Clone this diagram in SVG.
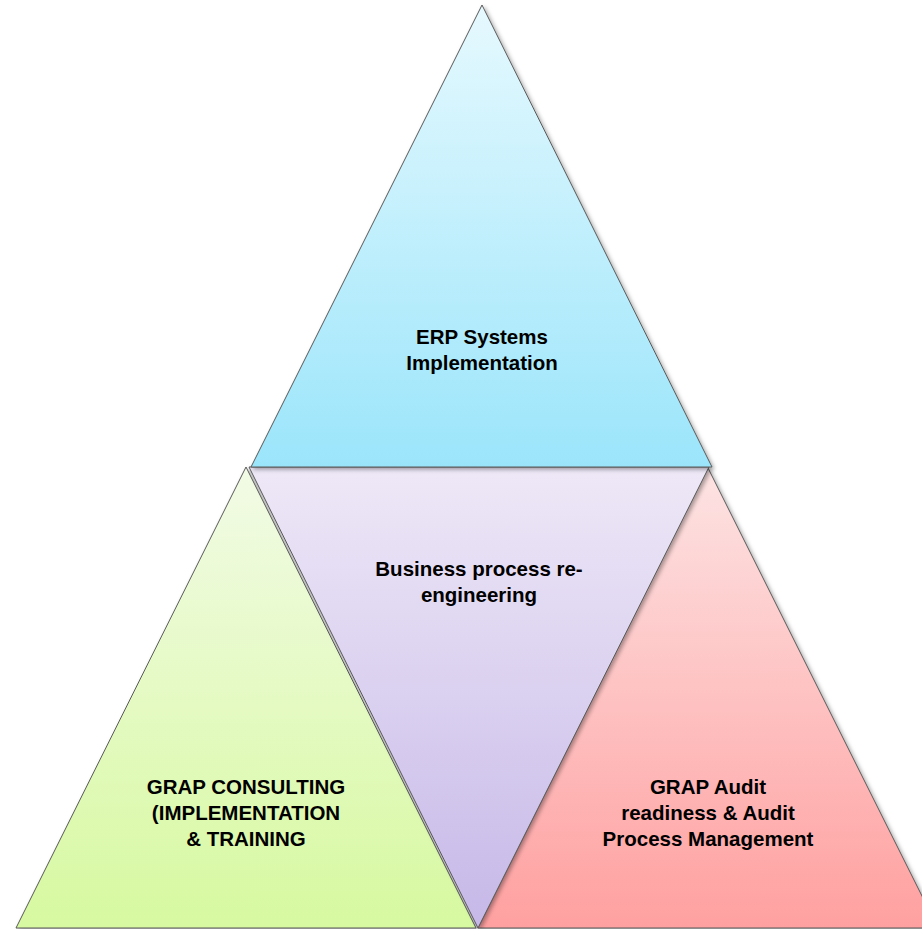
<svg xmlns="http://www.w3.org/2000/svg" width="922" height="929" viewBox="0 0 922 929">
  <defs>
    <linearGradient id="gTop" x1="0" y1="0" x2="0" y2="1">
      <stop offset="0" stop-color="#e6f9fe"/>
      <stop offset="1" stop-color="#9be5fb"/>
    </linearGradient>
    <linearGradient id="gLeft" x1="0" y1="0" x2="0" y2="1">
      <stop offset="0" stop-color="#f2fbe6"/>
      <stop offset="1" stop-color="#d7f9a0"/>
    </linearGradient>
    <linearGradient id="gMid" x1="0" y1="0" x2="0" y2="1">
      <stop offset="0" stop-color="#eee8f7"/>
      <stop offset="1" stop-color="#c6b8e8"/>
    </linearGradient>
    <linearGradient id="gRight" x1="0" y1="0" x2="0" y2="1">
      <stop offset="0" stop-color="#fde3e3"/>
      <stop offset="1" stop-color="#ffa0a0"/>
    </linearGradient>
    <filter id="shadow" x="-10%" y="-10%" width="120%" height="120%">
      <feDropShadow dx="2" dy="2" stdDeviation="2" flood-color="#000" flood-opacity="0.35"/>
    </filter>
  </defs>
  <style>
    .tri { stroke: #5a5a5a; stroke-width: 1; stroke-linejoin: miter; filter: url(#shadow); }
    .lbl { font-family: "Liberation Sans", Arial, sans-serif; font-weight: bold; font-size: 20.5px; fill: #000; text-anchor: middle; }
  </style>
  <rect width="922" height="929" fill="#ffffff"/>
  <g id="node-left">
    <polygon class="tri" points="246,467 476,928 16,928" fill="url(#gLeft)"/>
    <text class="lbl" x="246" y="794">GRAP CONSULTING</text>
    <text class="lbl" x="246" y="820">(IMPLEMENTATION</text>
    <text class="lbl" x="246" y="846">&amp; TRAINING</text>
  </g>
  <g id="node-right">
    <polygon class="tri" points="708,468 938,928 478,928" fill="url(#gRight)"/>
    <text class="lbl" x="708" y="794">GRAP Audit</text>
    <text class="lbl" x="708" y="820">readiness &amp; Audit</text>
    <text class="lbl" x="708" y="846">Process Management</text>
  </g>
  <g id="node-middle">
    <polygon class="tri" points="249,467 709,467 478,928" fill="url(#gMid)"/>
    <text class="lbl" x="479" y="576">Business process re-</text>
    <text class="lbl" x="479" y="602">engineering</text>
  </g>
  <g id="node-top">
    <polygon class="tri" points="482,5 712,467 251,467" fill="url(#gTop)"/>
    <text class="lbl" x="482" y="344">ERP Systems</text>
    <text class="lbl" x="482" y="370">Implementation</text>
  </g>
  <g id="connectors"/>
</svg>
